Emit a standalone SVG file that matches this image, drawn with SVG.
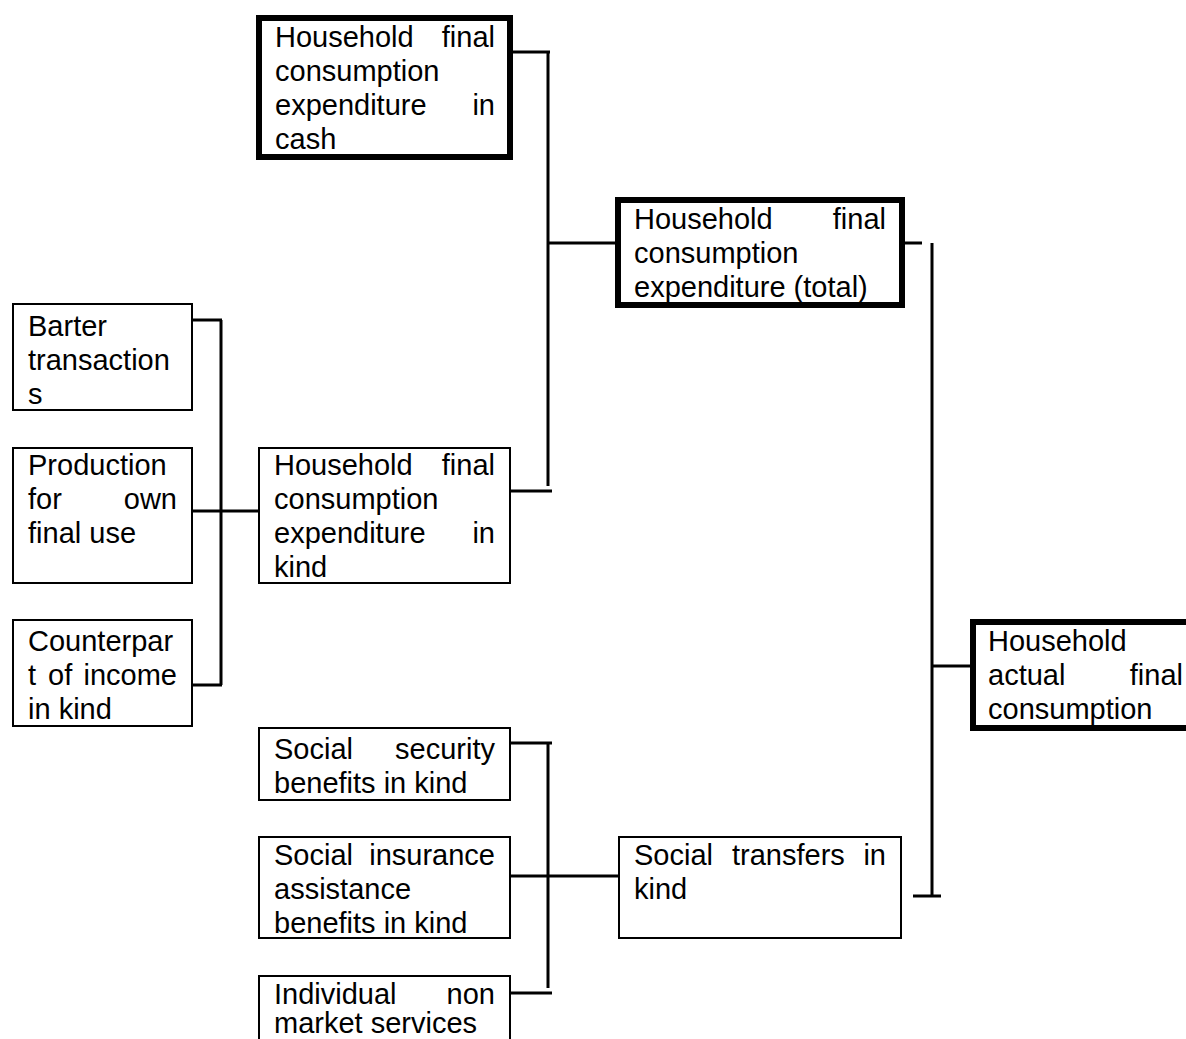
<svg xmlns="http://www.w3.org/2000/svg" width="1186" height="1039" viewBox="0 0 1186 1039">
<style>
text{font-family:"Liberation Sans",Arial,sans-serif;font-size:29px;fill:#000}
.e{text-anchor:end}
.thin{fill:#fff;stroke:#000;stroke-width:2}
.thick{fill:#fff;stroke:#000;stroke-width:6}
.c{fill:none;stroke:#000;stroke-width:3}
</style>
<rect width="1186" height="1039" fill="#fff"/>
<g id="connectors">
<path class="c" d="M511 52H550M548 51V486M510 491H552"/>
<path class="c" d="M548 243H617"/>
<path class="c" d="M896 243H922M932 243V896M913 896H941"/>
<path class="c" d="M932 666H971"/>
<path class="c" d="M184 320H222M221 320V685M184 685H222M184 511H258"/>
<path class="c" d="M510 743H552M548 743V988M510 993H552M510 876H618"/>
</g>
<g id="cash">
<rect class="thick" x="259" y="18" width="251" height="139"/>
<text x="275" y="47">Household</text><text class="e" x="495" y="47">final</text>
<text x="275" y="81">consumption</text>
<text x="275" y="115">expenditure</text><text class="e" x="495" y="115">in</text>
<text x="275" y="149">cash</text>
</g>
<g id="total">
<rect class="thick" x="618" y="200" width="284" height="105"/>
<text x="634" y="229">Household</text><text class="e" x="886" y="229">final</text>
<text x="634" y="263">consumption</text>
<text x="634" y="297">expenditure (total)</text>
</g>
<g id="barter">
<rect class="thin" x="13" y="304" width="179" height="106"/>
<text x="28" y="336">Barter</text>
<text x="28" y="370">transaction</text>
<text x="28" y="404">s</text>
</g>
<g id="production">
<rect class="thin" x="13" y="448" width="179" height="135"/>
<text x="28" y="475">Production</text>
<text x="28" y="509">for</text><text class="e" x="177" y="509">own</text>
<text x="28" y="543">final use</text>
</g>
<g id="counterpart">
<rect class="thin" x="13" y="620" width="179" height="106"/>
<text x="28" y="651">Counterpar</text>
<text x="28" y="685">t</text><text x="48" y="685">of</text><text class="e" x="177" y="685">income</text>
<text x="28" y="719">in kind</text>
</g>
<g id="inkind">
<rect class="thin" x="259" y="448" width="251" height="135"/>
<text x="274" y="475">Household</text><text class="e" x="495" y="475">final</text>
<text x="274" y="509">consumption</text>
<text x="274" y="543">expenditure</text><text class="e" x="495" y="543">in</text>
<text x="274" y="577">kind</text>
</g>
<g id="socialsecurity">
<rect class="thin" x="259" y="728" width="251" height="72"/>
<text x="274" y="759">Social</text><text class="e" x="495" y="759">security</text>
<text x="274" y="793">benefits in kind</text>
</g>
<g id="socialinsurance">
<rect class="thin" x="259" y="837" width="251" height="101"/>
<text x="274" y="865">Social</text><text class="e" x="495" y="865">insurance</text>
<text x="274" y="899">assistance</text>
<text x="274" y="933">benefits in kind</text>
</g>
<g id="individual">
<rect class="thin" x="259" y="976" width="251" height="80"/>
<text x="274" y="1004">Individual</text><text class="e" x="495" y="1004">non</text>
<text x="274" y="1033">market services</text>
</g>
<g id="transfers">
<rect class="thin" x="619" y="837" width="282" height="101"/>
<text x="634" y="865">Social</text><text x="732" y="865">transfers</text><text class="e" x="886" y="865">in</text>
<text x="634" y="899">kind</text>
</g>
<g id="actual">
<rect class="thick" x="973" y="622" width="260" height="106"/>
<text x="988" y="651">Household</text>
<text x="988" y="685">actual</text><text class="e" x="1183" y="685">final</text>
<text x="988" y="719">consumption</text>
</g>
</svg>
